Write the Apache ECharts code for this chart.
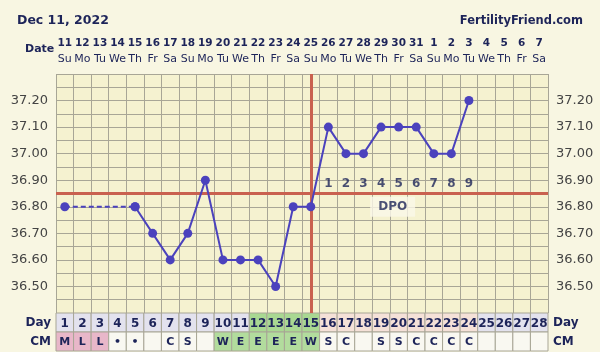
<!DOCTYPE html>
<html>
<head>
<meta charset="utf-8">
<script src="https://cdn.jsdelivr.net/npm/echarts@6/dist/echarts.min.js"></script>
<style>
  html, body { margin: 0; padding: 0; background: #f8f6e2; }
  #main { width: 600px; height: 352px; }
</style>
</head>
<body>
<div id="main"></div>
<script>
// cycle days and their calendar dates
var cycleDays = ['1','2','3','4','5','6','7','8','9','10','11','12','13','14',
    '15','16','17','18','19','20','21','22','23','24','25','26','27','28'];
var dates = ['11','12','13','14','15','16','17','18','19','20','21','22','23','24',
    '25','26','27','28','29','30','31','1','2','3','4','5','6','7'];
var weekdays = ['Su','Mo','Tu','We','Th','Fr','Sa','Su','Mo','Tu','We','Th','Fr','Sa',
    'Su','Mo','Tu','We','Th','Fr','Sa','Su','Mo','Tu','We','Th','Fr','Sa'];

// temperatures (null = not recorded)
var temps = [36.80, null, null, null, 36.80, 36.70, 36.60, 36.70, 36.90, 36.60,
    36.60, 36.60, 36.50, 36.80, 36.80, 37.10, 37.00, 37.00, 37.10, 37.10,
    37.10, 37.00, 37.00, 37.20, null, null, null, null];

// cervical mucus codes
var cmCodes = ['M','L','L','\u2022','\u2022','','C','S','','W','E','E','E','E',
    'W','S','C','','S','S','C','C','C','C','','','',''];

var coverline = 36.85;
var ovulationDay = 15;
var lastRecordedDay = 24;
var dpoLabels = ['1','2','3','4','5','6','7','8','9'];
var tempTicks = ['36.50','36.60','36.70','36.80','36.90','37.00','37.10','37.20'];

var navy = '#1d2459';
var lineBlue = '#4b42bd';
var red = '#c9614f';
var gridGray = '#a8a696';

// dashed part bridges the missing days before the first solid point
var firstSolid = 4;
var dashedData = temps.map(function (v, i) { return i <= firstSolid ? v : null; });
var solidData = temps.map(function (v, i) { return i >= firstSolid ? v : null; });

var dpoData = dpoLabels.map(function (lab, i) {
    return { value: [ovulationDay + i, coverline], label: { formatter: lab } };
});

function dayRowColor(d) {
    if (d > ovulationDay - 4 && d <= ovulationDay) return '#a9d892';
    if (d > ovulationDay && d <= lastRecordedDay) return '#f5e1d8';
    return '#e3e2ee';
}
function cmColor(c) {
    if (c === 'M' || c === 'L') return '#e8b7c9';
    if (c === 'W' || c === 'E') return '#b2dc9d';
    return '#f9f8f1';
}

var tableData = [];
cycleDays.forEach(function (d, i) {
    tableData.push({ value: [i, 1, d], fill: dayRowColor(+d), size: 12 });
    tableData.push({ value: [i, 0, cmCodes[i]], fill: cmColor(cmCodes[i]), size: 11 });
});

var chart = echarts.init(document.getElementById('main'));

var yLabel = {
    color: '#444',
    fontSize: 13,
    fontFamily: 'DejaVu Sans',
    formatter: function (v) {
        var s = v.toFixed(2);
        return tempTicks.indexOf(s) >= 0 ? s : '';
    }
};

var option = {
    backgroundColor: '#f8f6e2',
    animation: false,
    textStyle: { fontFamily: 'DejaVu Sans' },
    title: [
        { text: 'Dec 11, 2022', left: 12, top: 9,
          textStyle: { color: navy, fontSize: 12.5, fontWeight: 'bold', fontFamily: 'DejaVu Sans' } },
        { text: 'FertilityFriend.com', right: 12, top: 10,
          textStyle: { color: navy, fontSize: 11.5, fontWeight: 'bold', fontFamily: 'DejaVu Sans' } },
        { text: 'Date', left: 20, top: 39,
          textStyle: { color: navy, fontSize: 11, fontWeight: 'bold', fontFamily: 'DejaVu Sans' } }
    ],
    grid: [
        { left: 56, right: 52, top: 74, height: 239, show: true,
          backgroundColor: '#f5f2d0', borderWidth: 0 },
        { left: 56, right: 52, top: 313, height: 38 }
    ],
    xAxis: [
        {
            gridIndex: 0, type: 'category', data: cycleDays, position: 'top',
            boundaryGap: true,
            axisLine: { show: false }, axisTick: { show: false },
            axisLabel: {
                interval: 0, margin: 7,
                formatter: function (v, i) {
                    return '{d|' + dates[i] + '}\n{w|' + weekdays[i] + '}';
                },
                rich: {
                    d: { color: navy, fontSize: 10.5, fontWeight: 'bold', lineHeight: 16 },
                    w: { color: navy, fontSize: 11, lineHeight: 16 }
                }
            },
            splitLine: { show: true, interval: 0, lineStyle: { color: gridGray, width: 1 } }
        },
        {
            gridIndex: 1, type: 'category', data: cycleDays,
            axisLine: { show: false }, axisTick: { show: false },
            axisLabel: { show: false }, splitLine: { show: false }
        }
    ],
    yAxis: [
        {
            gridIndex: 0, type: 'value', min: 36.4, max: 37.3, interval: 0.05,
            axisLine: { show: false }, axisTick: { show: false },
            axisLabel: yLabel,
            splitLine: { show: true, lineStyle: { color: gridGray, width: 1 } }
        },
        {
            gridIndex: 0, type: 'value', min: 36.4, max: 37.3, interval: 0.05,
            position: 'right',
            axisLine: { show: false }, axisTick: { show: false },
            axisLabel: yLabel, splitLine: { show: false }
        },
        {
            gridIndex: 1, type: 'category', data: ['CM', 'Day'],
            axisLine: { show: false }, axisTick: { show: false },
            axisLabel: { color: navy, fontSize: 12, fontWeight: 'bold', margin: 5 }
        },
        {
            gridIndex: 1, type: 'category', data: ['CM', 'Day'], position: 'right',
            axisLine: { show: false }, axisTick: { show: false },
            axisLabel: { color: navy, fontSize: 12, fontWeight: 'bold', margin: 5 }
        }
    ],
    series: [
        {
            type: 'line', xAxisIndex: 0, yAxisIndex: 0, data: dashedData,
            connectNulls: true, symbol: 'circle', symbolSize: 9,
            lineStyle: { color: lineBlue, width: 2, type: [5, 3] },
            itemStyle: { color: lineBlue }, z: 4
        },
        {
            type: 'line', xAxisIndex: 0, yAxisIndex: 0, data: solidData,
            symbol: 'circle', symbolSize: 9,
            lineStyle: { color: lineBlue, width: 2 },
            itemStyle: { color: lineBlue }, z: 5,
            markLine: {
                silent: true, symbol: 'none', label: { show: false },
                lineStyle: { color: red, width: 3, type: 'solid' },
                data: [
                    { yAxis: coverline },
                    { xAxis: String(ovulationDay) }
                ],
                z: 3
            }
        },
        {
            type: 'scatter', xAxisIndex: 0, yAxisIndex: 0, symbolSize: 0,
            data: dpoData,
            label: { show: true, position: 'top', distance: 4,
                     color: navy, fontSize: 12, fontWeight: 'bold' },
            z: 6
        },
        {
            type: 'scatter', xAxisIndex: 0, yAxisIndex: 0, symbolSize: 0,
            data: [{ value: [19, 36.80], label: { formatter: 'DPO' } }],
            label: { show: true, position: 'inside', offset: [-6, 0],
                     color: navy, fontSize: 12, fontWeight: 'bold',
                     backgroundColor: '#faf8e8', padding: [4, 8] },
            z: 6
        },
        {
            type: 'custom', xAxisIndex: 1, yAxisIndex: 2, data: tableData,
            renderItem: function (params, api) {
                var item = tableData[params.dataIndex];
                var c = api.coord([api.value(0), api.value(1)]);
                var s = api.size([1, 1]);
                return {
                    type: 'group',
                    children: [
                        { type: 'rect',
                          shape: { x: c[0] - s[0] / 2, y: c[1] - s[1] / 2, width: s[0], height: s[1] },
                          style: { fill: item.fill, stroke: gridGray, lineWidth: 1 } },
                        { type: 'text',
                          style: { x: c[0], y: c[1] + 1, text: item.value[2],
                                   fill: navy, align: 'center', verticalAlign: 'middle',
                                   font: 'bold ' + item.size + 'px DejaVu Sans' } }
                    ]
                };
            }
        }
    ]
};

chart.setOption(option);
</script>
</body>
</html>
